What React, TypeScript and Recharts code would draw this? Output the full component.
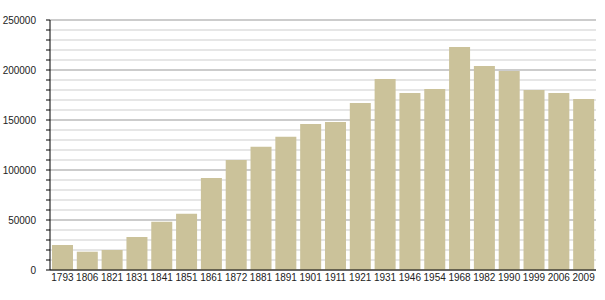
import React from 'react';
import { BarChart, Bar, XAxis, YAxis, CartesianGrid } from 'recharts';

const years = [
	'1793', '1806', '1821', '1831', '1841', '1851', '1861', '1872', '1881', '1891', '1901',
	'1911', '1921', '1931', '1946', '1954', '1968', '1982', '1990', '1999', '2006', '2009'
];

const population = [
	25000, 18300, 20000, 33000, 48300, 56300, 92000, 110000, 123300, 133300, 146000,
	148000, 167000, 191000, 177000, 181000, 223000, 204000, 199000, 180000, 177000, 171000
];

const yTicks = [
	0, 10000, 20000, 30000, 40000, 50000, 60000, 70000, 80000, 90000, 100000,
	110000, 120000, 130000, 140000, 150000, 160000, 170000, 180000, 190000, 200000,
	210000, 220000, 230000, 240000, 250000
];

const data = years.map((year, i) => ({ year, value: population[i] }));

const tickFont = { fontSize: 10, fill: '#222', fontFamily: '"Liberation Sans", Arial, sans-serif' };

const gridLine = (props: any) => {
	const major = props.index % 5 === 0;
	return (
		<line
			key={`h-${props.index}`}
			x1={props.x1}
			y1={props.y1}
			x2={props.x2}
			y2={props.y2}
			stroke={major ? '#999' : '#cdcdcd'}
			strokeWidth={1}
		/>
	);
};

const App: React.FC = () => {
	return (
		<div style={{ position: 'absolute', left: 0, top: 0, background: '#fff' }}>
			<BarChart
				width={605}
				height={300}
				data={data}
				margin={{ top: 20, right: 9, bottom: 0, left: 0 }}
				barCategoryGap="8%"
			>
				<CartesianGrid vertical={false} horizontal={gridLine} />
				<XAxis
					dataKey="year"
					interval={0}
					tickLine={false}
					tickSize={4}
					tickMargin={0}
					height={30}
					axisLine={{ stroke: '#000' }}
					tick={tickFont}
				/>
				<YAxis
					domain={[0, 250000]}
					ticks={yTicks}
					interval={0}
					width={50}
					tickSize={4}
					tickMargin={10}
					axisLine={{ stroke: '#000' }}
					tickLine={{ stroke: '#000' }}
					tick={tickFont}
					tickFormatter={(v: number) => (v % 50000 === 0 ? String(v) : '')}
				/>
				<Bar dataKey="value" fill="#cbc29a" isAnimationActive={false} />
			</BarChart>
		</div>
	);
};

export default App;
